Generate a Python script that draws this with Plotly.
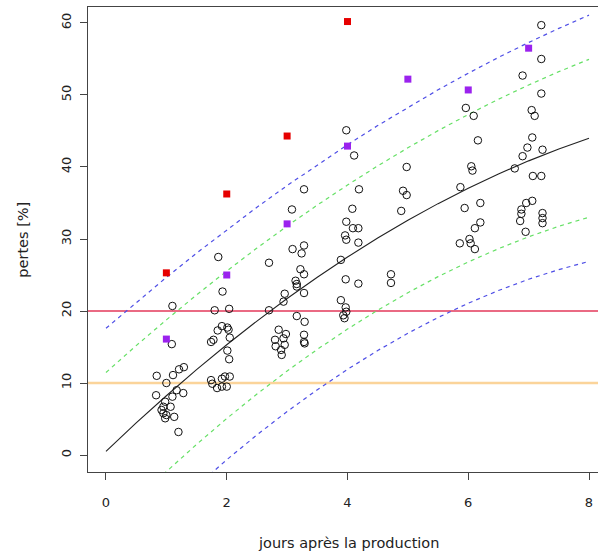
import plotly.graph_objects as go

# ---- data ----
circle_x = [1.10, 1.09, 0.84, 1.11, 1.21, 1.29, 1.00, 0.83, 1.17, 1.10, 1.28, 0.98, 1.07, 0.95, 0.92, 0.95, 1.00, 0.98, 1.13, 1.20,
            1.86, 1.93, 1.80, 2.04, 1.92, 2.01, 1.85, 2.03, 2.05, 1.74, 1.78, 2.01, 2.04, 1.74, 1.76, 1.92, 1.97, 2.05, 1.92, 2.00, 1.84,
            3.28, 3.08, 3.09, 3.24, 3.28, 2.70, 3.22, 3.28, 3.14, 3.16, 3.16, 3.28, 2.96, 2.94, 2.70, 3.16, 3.29, 2.86, 2.98, 2.80, 2.94, 2.81, 2.96, 2.90, 2.91, 3.28, 3.28, 3.29,
            3.98, 4.11, 4.19, 4.08, 3.98, 4.09, 4.18, 3.96, 3.98, 4.18, 3.89, 3.97, 4.18, 3.89, 3.97, 3.98, 3.93, 3.95,
            4.98, 4.92, 4.98, 4.89, 4.72, 4.72,
            5.96, 6.09, 6.16, 6.05, 6.07, 5.87, 5.94, 6.20, 6.20, 6.11, 5.86, 6.02, 6.04, 6.11,
            7.21, 7.21, 6.90, 7.21, 7.05, 7.10, 7.06, 6.98, 6.90, 7.23, 6.77, 7.07, 7.21, 7.06, 6.96, 6.88, 6.88, 6.86, 7.23, 7.23, 7.23, 6.95]
circle_y = [20.7, 15.4, 11.0, 11.1, 11.9, 12.2, 10.0, 8.3, 9.0, 8.1, 8.6, 7.4, 6.7, 6.7, 6.25, 5.8, 5.55, 5.1, 5.3, 3.2,
            27.5, 22.7, 20.1, 20.3, 17.9, 17.7, 17.3, 17.4, 16.3, 15.7, 16.0, 14.5, 13.3, 10.4, 9.9, 10.6, 10.9, 10.9, 9.5, 9.5, 9.3,
            36.9, 34.1, 28.6, 28.0, 29.1, 26.7, 25.8, 25.1, 24.2, 23.75, 23.4, 22.5, 22.4, 21.3, 20.1, 19.3, 18.5, 17.4, 16.8, 16.0, 16.2, 15.1, 15.3, 14.6, 13.9, 16.7, 15.7, 15.5,
            45.1, 41.6, 36.9, 34.2, 32.4, 31.5, 31.5, 30.5, 29.9, 29.5, 27.1, 24.4, 23.8, 21.5, 20.5, 19.9, 19.4, 19.0,
            40.0, 36.7, 36.1, 33.9, 25.1, 23.9,
            48.2, 47.1, 43.7, 40.1, 39.5, 37.2, 34.3, 35.0, 32.3, 31.5, 29.4, 30.0, 29.4, 28.6,
            59.7, 55.0, 52.7, 50.2, 47.9, 47.1, 44.1, 42.7, 41.5, 42.4, 39.8, 38.75, 38.75, 35.3, 35.0, 34.1, 33.5, 32.5, 33.6, 32.9, 32.2, 31.0]

red_x = [1, 2, 3, 4]
red_y = [25.3, 36.25, 44.3, 60.2]
purple_x = [1, 2, 3, 4, 5, 6, 7]
purple_y = [16.1, 25.0, 32.1, 42.9, 52.2, 50.7, 56.5]

curve_x = [0, 0.5, 1, 1.5, 2, 2.5, 3, 3.5, 4, 4.5, 5, 5.5, 6, 6.5, 7, 7.5, 8]
fit_y = [0.5, 4.45, 8.23, 11.85, 15.31, 18.6, 21.73, 24.69, 27.49, 30.13, 32.6, 34.91, 37.05, 39.03, 40.85, 42.5, 43.99]
green_hw = [10.96, 10.74, 10.54, 10.38, 10.24, 10.14, 10.06, 10.02, 10.0, 10.02, 10.06, 10.14, 10.24, 10.38, 10.54, 10.74, 10.96]
blue_hw = [17.1, 16.75, 16.44, 16.19, 15.97, 15.81, 15.69, 15.62, 15.6, 15.62, 15.69, 15.81, 15.97, 16.19, 16.44, 16.75, 17.1]

h_red = 20
h_orange = 10
x_ticks = [0, 2, 4, 6, 8]
y_ticks = [0, 10, 20, 30, 40, 50, 60]

FONT = "DejaVu Sans, sans-serif"

fig = go.Figure()

green_up = [f + h for f, h in zip(fit_y, green_hw)]
green_lo = [f - h for f, h in zip(fit_y, green_hw)]
blue_up = [f + h for f, h in zip(fit_y, blue_hw)]
blue_lo = [f - h for f, h in zip(fit_y, blue_hw)]

for ys, col in [(green_up, "#66e066"), (green_lo, "#66e066"), (blue_up, "#4f4fe6"), (blue_lo, "#4f4fe6")]:
    fig.add_trace(go.Scatter(x=curve_x, y=ys, mode="lines",
                             line=dict(color=col, width=1.2, dash="4px,4px"), hoverinfo="skip"))

fig.add_trace(go.Scatter(x=curve_x, y=fit_y, mode="lines", line=dict(color="#222222", width=1.1)))

fig.add_hline(y=h_red, line=dict(color="#e3385a", width=1.5), layer="below")
fig.add_hline(y=h_orange, line=dict(color="#fbd49a", width=2.5), layer="below")

fig.add_trace(go.Scatter(x=circle_x, y=circle_y, mode="markers",
                         marker=dict(symbol="circle-open", size=7.5, color="#111111", line=dict(width=1))))
fig.add_trace(go.Scatter(x=red_x, y=red_y, mode="markers",
                         marker=dict(symbol="square", size=7, color="#e60000", line=dict(width=0))))
fig.add_trace(go.Scatter(x=purple_x, y=purple_y, mode="markers",
                         marker=dict(symbol="square", size=7, color="#9b22ee", line=dict(width=0))))

fig.update_layout(
    width=598, height=553,
    margin=dict(l=88, r=0, t=7, b=81),
    plot_bgcolor="white", paper_bgcolor="white",
    showlegend=False,
    font=dict(family=FONT, size=13, color="#222222"),
    xaxis=dict(range=[-0.298, 8.149], tickvals=x_ticks, ticks="outside", ticklen=7, tickcolor="#444",
               showgrid=False, zeroline=False, showline=True, linecolor="#444", linewidth=1.3, mirror=True,
               ticklabelstandoff=11, tickfont=dict(size=13, family=FONT)),
    yaxis=dict(range=[-2.36, 62.22], tickvals=y_ticks, ticks="outside", ticklen=7, tickcolor="#444",
               showgrid=False, zeroline=False, showline=True, linecolor="#444", linewidth=1.3,
               ticklabelstandoff=4, tickangle=-90, tickfont=dict(size=13, family=FONT)),
    annotations=[
        dict(text="jours après la production", xref="paper", yref="paper", x=0.51, y=-0.153,
             xanchor="center", yanchor="middle", showarrow=False, font=dict(size=14.5, family=FONT)),
        dict(text="pertes [%]", xref="paper", yref="paper", x=-0.129, y=0.5, textangle=-90,
             xanchor="center", yanchor="middle", showarrow=False, font=dict(size=14.5, family=FONT)),
    ],
)

fig.write_html("out.html")
